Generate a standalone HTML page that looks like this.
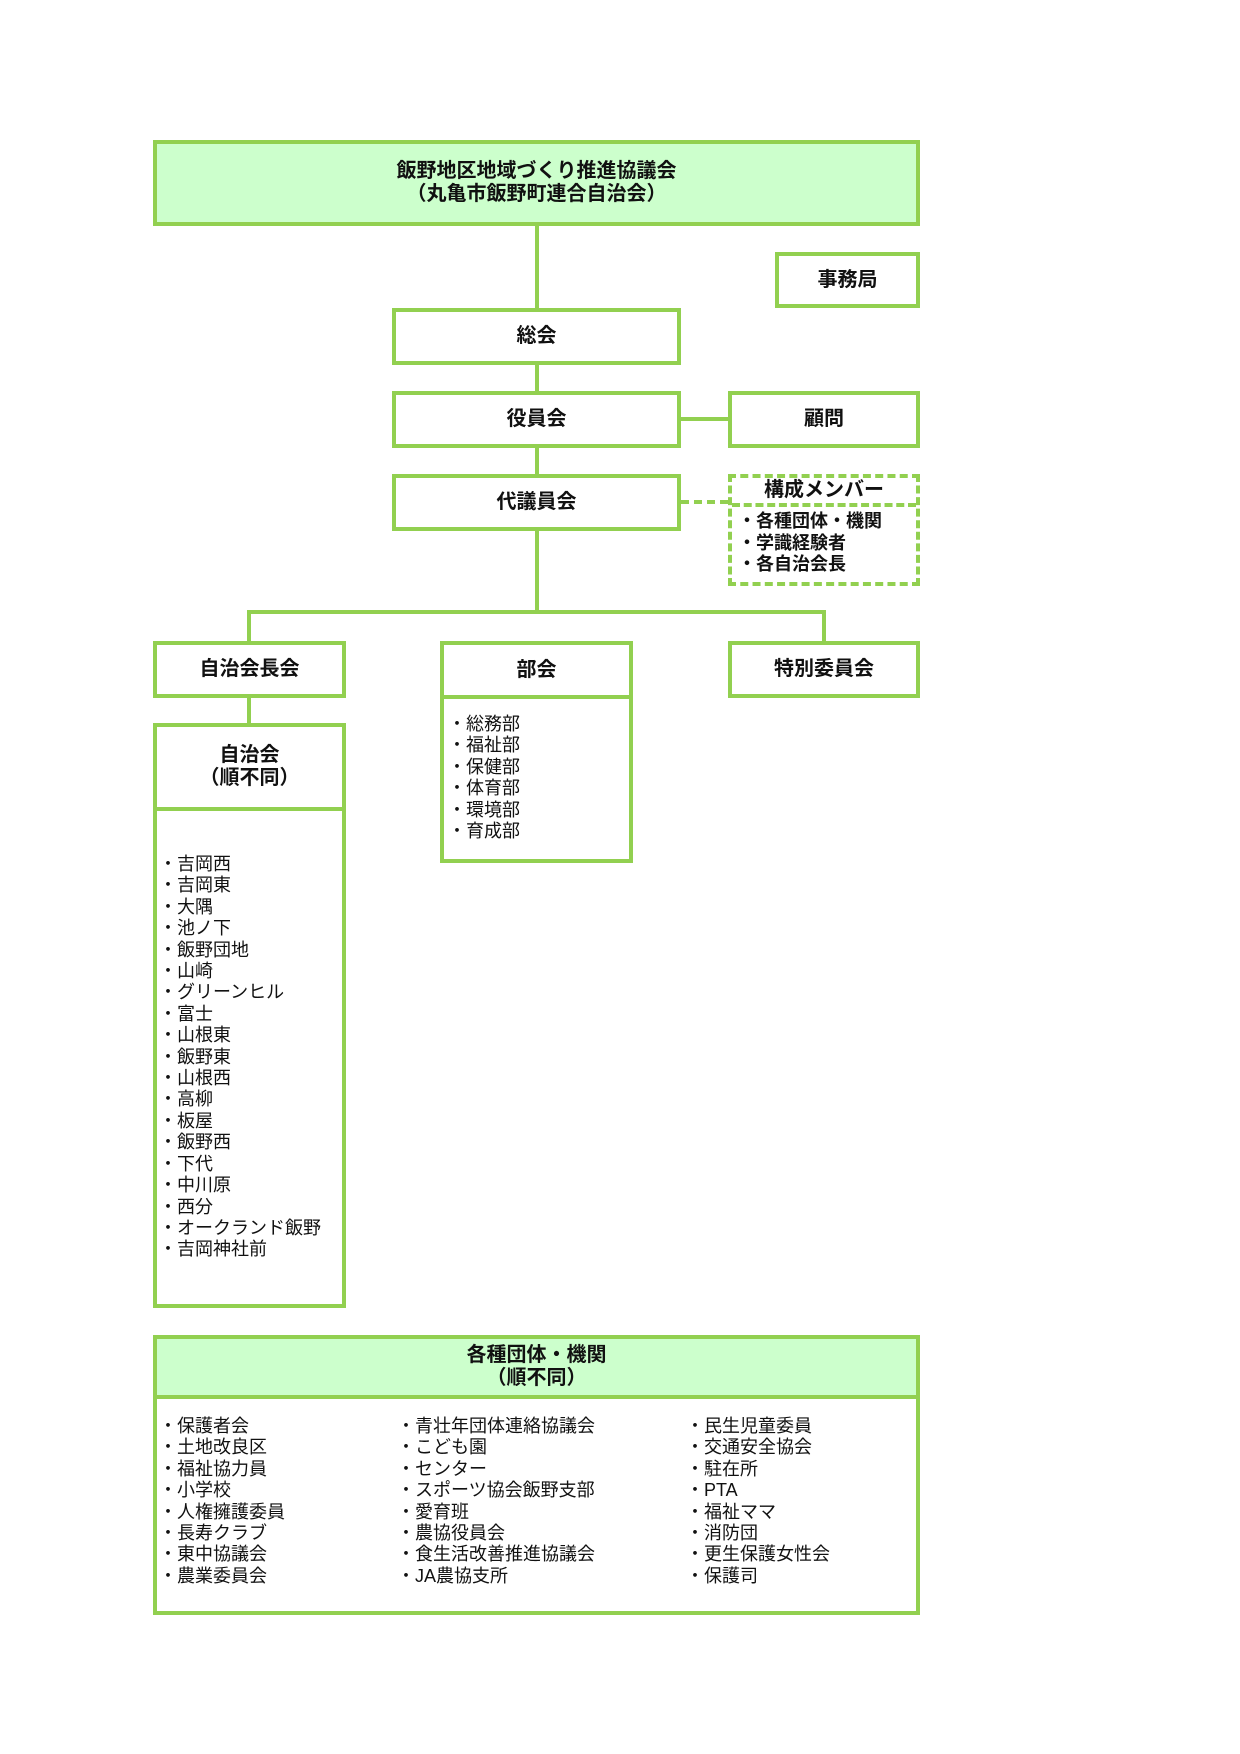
<!DOCTYPE html>
<html><head><meta charset="utf-8"><style>
body{margin:0;width:1240px;height:1754px;background:#fff;position:relative;font-family:"Liberation Sans","Noto Sans CJK JP",sans-serif;color:#111;overflow:hidden}
.b{position:absolute;box-sizing:border-box;border:4px solid #92d050;background:#fff}
.h{display:flex;align-items:center;justify-content:center;text-align:center;font-weight:bold;font-size:20px;line-height:23px}
.l{position:absolute;background:#92d050}
.list{position:absolute;font-size:18px;line-height:21.4px;white-space:pre}
.g{background:#ccffcc}
</style></head><body>
<div class="b g h" style="left:153px;top:140px;width:767px;height:86px">飯野地区地域づくり推進協議会<br>（丸亀市飯野町連合自治会）</div>
<div class="l" style="left:535px;top:226px;width:4px;height:388px"></div>
<div class="b h" style="left:775px;top:252px;width:145px;height:56px">事務局</div>
<div class="b h" style="left:392px;top:308px;width:289px;height:57px">総会</div>
<div class="b h" style="left:392px;top:391px;width:289px;height:57px">役員会</div>
<div class="l" style="left:681px;top:417px;width:47px;height:4px"></div>
<div class="b h" style="left:728px;top:391px;width:192px;height:57px">顧問</div>
<div class="b h" style="left:392px;top:474px;width:289px;height:57px">代議員会</div>
<div style="position:absolute;left:681px;top:500px;width:47px;border-top:4px dashed #92d050"></div>
<div class="b" style="left:728px;top:474px;width:192px;height:112px;border-style:dashed">
 <div class="h" style="height:25px;border-bottom:4px dashed #92d050">構成メンバー</div>
 <div style="font-weight:bold;font-size:18px;line-height:21.5px;padding:4px 0 0 6px;white-space:pre">・各種団体・機関
・学識経験者
・各自治会長</div>
</div>
<div class="l" style="left:247px;top:610px;width:579px;height:4px"></div>
<div class="l" style="left:247px;top:610px;width:4px;height:32px"></div>
<div class="l" style="left:822px;top:610px;width:4px;height:32px"></div>
<div class="b h" style="left:153px;top:641px;width:193px;height:57px">自治会長会</div>
<div class="l" style="left:247px;top:698px;width:4px;height:26px"></div>
<div class="b" style="left:440px;top:641px;width:193px;height:222px">
 <div class="h" style="height:50px;border-bottom:4px solid #92d050">部会</div>
</div>
<div class="list" style="left:448px;top:714px">・総務部
・福祉部
・保健部
・体育部
・環境部
・育成部</div>
<div class="b h" style="left:728px;top:641px;width:192px;height:57px">特別委員会</div>
<div class="b" style="left:153px;top:723px;width:193px;height:585px">
 <div class="h" style="height:80px;border-bottom:4px solid #92d050">自治会<br>（順不同）</div>
</div>
<div class="list" style="left:159px;top:854px">・吉岡西
・吉岡東
・大隅
・池ノ下
・飯野団地
・山崎
・グリーンヒル
・富士
・山根東
・飯野東
・山根西
・高柳
・板屋
・飯野西
・下代
・中川原
・西分
・オークランド飯野
・吉岡神社前</div>
<div class="b" style="left:153px;top:1335px;width:767px;height:280px">
 <div class="h g" style="height:56px;border-bottom:4px solid #92d050">各種団体・機関<br>（順不同）</div>
</div>
<div class="list" style="left:159px;top:1416px">・保護者会
・土地改良区
・福祉協力員
・小学校
・人権擁護委員
・長寿クラブ
・東中協議会
・農業委員会</div>
<div class="list" style="left:397px;top:1416px">・青壮年団体連絡協議会
・こども園
・センター
・スポーツ協会飯野支部
・愛育班
・農協役員会
・食生活改善推進協議会
・JA農協支所</div>
<div class="list" style="left:686px;top:1416px">・民生児童委員
・交通安全協会
・駐在所
・PTA
・福祉ママ
・消防団
・更生保護女性会
・保護司</div>
</body></html>
